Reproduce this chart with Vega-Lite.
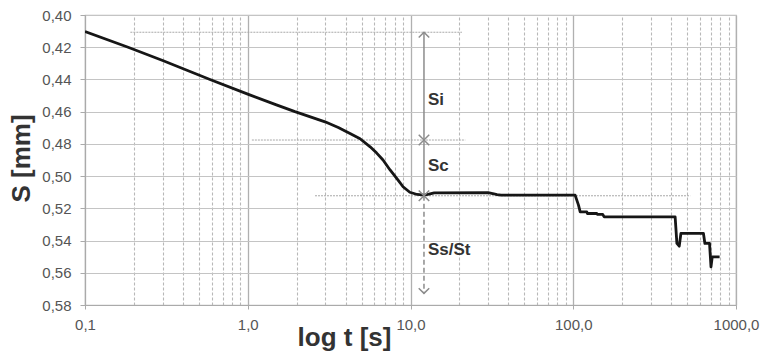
{
  "$schema": "https://vega.github.io/schema/vega-lite/v6.json",
  "width": 651,
  "height": 290,
  "autosize": "none",
  "padding": {"left": 85, "top": 15, "right": 25, "bottom": 48},
  "config": {
    "view": {"stroke": "#bdbdbd", "strokeWidth": 1.2},
    "font": "Liberation Sans",
    "axis": {
      "labelFont": "Liberation Sans",
      "labelFontSize": 15,
      "labelColor": "#555555",
      "titleFont": "Liberation Sans",
      "titleFontSize": 26,
      "titleFontWeight": "bold",
      "titleColor": "#333333",
      "domainColor": "#aaaaaa",
      "tickColor": "#aaaaaa",
      "gridColor": "#c4c4c4",
      "gridWidth": 1.2
    }
  },
  "datasets": {
    "curve": [
      {"t": 0.1, "S": 0.4103},
      {"t": 0.184, "S": 0.42},
      {"t": 0.3, "S": 0.4282},
      {"t": 0.586, "S": 0.44},
      {"t": 1.0, "S": 0.4491},
      {"t": 1.5, "S": 0.4558},
      {"t": 1.95, "S": 0.46},
      {"t": 2.985, "S": 0.4663},
      {"t": 3.6, "S": 0.4698},
      {"t": 4.25, "S": 0.4735},
      {"t": 4.9, "S": 0.4768},
      {"t": 5.65, "S": 0.4818},
      {"t": 6.2, "S": 0.4857},
      {"t": 6.78, "S": 0.49},
      {"t": 7.49, "S": 0.4962},
      {"t": 8.39, "S": 0.5025},
      {"t": 9.0, "S": 0.5066},
      {"t": 9.9, "S": 0.5100},
      {"t": 11.0, "S": 0.5114},
      {"t": 12.1, "S": 0.5118},
      {"t": 13.0, "S": 0.5112},
      {"t": 14.0, "S": 0.5104},
      {"t": 30.0, "S": 0.5103},
      {"t": 32.0, "S": 0.5108},
      {"t": 34.0, "S": 0.5115},
      {"t": 36.0, "S": 0.5118},
      {"t": 102.7, "S": 0.5118},
      {"t": 107.7, "S": 0.518},
      {"t": 110.3, "S": 0.5222},
      {"t": 121.2, "S": 0.5222},
      {"t": 122.2, "S": 0.5232},
      {"t": 139.6, "S": 0.5232},
      {"t": 141.0, "S": 0.5238},
      {"t": 151.8, "S": 0.5238},
      {"t": 154.9, "S": 0.5253},
      {"t": 422.7, "S": 0.5253},
      {"t": 433.3, "S": 0.5418},
      {"t": 448.0, "S": 0.5435},
      {"t": 458.6, "S": 0.5356},
      {"t": 631.0, "S": 0.5356},
      {"t": 644.0, "S": 0.5418},
      {"t": 687.7, "S": 0.5418},
      {"t": 702.0, "S": 0.5563},
      {"t": 714.5, "S": 0.5501},
      {"t": 793.0, "S": 0.5501}
    ],
    "refs": [
      {"t1": 0.19, "t2": 20.7, "S": 0.4107},
      {"t1": 1.06, "t2": 21.7, "S": 0.4776},
      {"t1": 2.59, "t2": 523, "S": 0.5122}
    ],
    "solidArrows": [
      {"t": 12.1, "S1": 0.4107, "S2": 0.4776},
      {"t": 12.1, "S1": 0.4776, "S2": 0.5122}
    ],
    "dashedArrows": [
      {"t": 12.1, "S1": 0.5122, "S2": 0.5728}
    ],
    "heads": [
      {"t": 12.1, "S": 0.4107, "dir": "up"},
      {"t": 12.1, "S": 0.4776, "dir": "down"},
      {"t": 12.1, "S": 0.4776, "dir": "up"},
      {"t": 12.1, "S": 0.5122, "dir": "down"},
      {"t": 12.1, "S": 0.5122, "dir": "up"},
      {"t": 12.1, "S": 0.5728, "dir": "down"}
    ],
    "labels": [
      {"t": 12.1, "S": 0.4528, "label": "Si"},
      {"t": 12.1, "S": 0.4938, "label": "Sc"},
      {"t": 12.1, "S": 0.5459, "label": "Ss/St"}
    ]
  },
  "encoding": {
    "x": {
      "field": "t",
      "type": "quantitative",
      "scale": {"type": "log", "domain": [0.1, 1000]},
      "axis": {
        "title": "log t [s]",
        "titleX": 259,
        "titleY": 40,
        "titleAlign": "center",
        "titleBaseline": "alphabetic",
        "values": [0.1, 0.2, 0.3, 0.4, 0.5, 0.6, 0.7, 0.8, 0.9, 1, 2, 3, 4, 5, 6, 7, 8, 9, 10, 20, 30, 40, 50, 60, 70, 80, 90, 100, 200, 300, 400, 500, 600, 700, 800, 900, 1000],
        "labelExpr": "abs(log(datum.value)/LN10 - round(log(datum.value)/LN10)) < 0.01 ? replace(format(datum.value, '.1f'), '.', ',') : ''",
        "labelOverlap": false,
        "labelFlush": false,
        "labelPadding": 8,
        "tickSize": 4,
        "tickOpacity": {"condition": {"test": "abs(log(datum.value)/LN10 - round(log(datum.value)/LN10)) < 0.01", "value": 1}, "value": 0},
        "gridDash": {"condition": {"test": "abs(log(datum.value)/LN10 - round(log(datum.value)/LN10)) < 0.01", "value": []}, "value": [3, 2]},
        "gridColor": {"condition": {"test": "abs(log(datum.value)/LN10 - round(log(datum.value)/LN10)) < 0.01", "value": "#b0b0b0"}, "value": "#b8b8b8"},
        "gridWidth": {"condition": {"test": "abs(log(datum.value)/LN10 - round(log(datum.value)/LN10)) < 0.01", "value": 1.3}, "value": 1.1}
      }
    },
    "y": {
      "field": "S",
      "type": "quantitative",
      "scale": {"domain": [0.4, 0.58], "reverse": true, "zero": false},
      "axis": {
        "title": "S [mm]",
        "titleX": -64,
        "titleY": 143,
        "titleAngle": -90,
        "titleAlign": "center",
        "titleBaseline": "middle",
        "values": [0.4, 0.42, 0.44, 0.46, 0.48, 0.5, 0.52, 0.54, 0.56, 0.58],
        "labelExpr": "replace(format(datum.value, '.2f'), '.', ',')",
        "labelPadding": 9,
        "tickSize": 5,
        "labelOverlap": false,
        "labelFlush": false
      }
    }
  },
  "layer": [
    {
      "data": {"name": "refs"},
      "mark": {"type": "rule", "color": "#a8a8a8", "strokeWidth": 1, "strokeDash": [2, 1]},
      "encoding": {
        "x": {"field": "t1", "type": "quantitative"},
        "x2": {"field": "t2"},
        "y": {"field": "S", "type": "quantitative"}
      }
    },
    {
      "data": {"name": "curve"},
      "mark": {"type": "line", "color": "#161616", "strokeWidth": 2.8, "strokeJoin": "round", "clip": true},
      "encoding": {}
    },
    {
      "data": {"name": "solidArrows"},
      "mark": {"type": "rule", "color": "#8c8c8c", "strokeWidth": 1.5},
      "encoding": {
        "x": {"field": "t", "type": "quantitative"},
        "y": {"field": "S1", "type": "quantitative"},
        "y2": {"field": "S2"}
      }
    },
    {
      "data": {"name": "dashedArrows"},
      "mark": {"type": "rule", "color": "#8c8c8c", "strokeWidth": 1.5, "strokeDash": [5, 3]},
      "encoding": {
        "x": {"field": "t", "type": "quantitative"},
        "y": {"field": "S1", "type": "quantitative"},
        "y2": {"field": "S2"}
      }
    },
    {
      "data": {"name": "heads"},
      "mark": {"type": "point", "filled": false, "stroke": "#8c8c8c", "strokeWidth": 1.5, "size": 110, "opacity": 1},
      "encoding": {
        "x": {"field": "t", "type": "quantitative"},
        "y": {"field": "S", "type": "quantitative"},
        "shape": {
          "field": "dir",
          "type": "nominal",
          "scale": {"domain": ["up", "down"], "range": ["M-1,1 L0,0 L1,1", "M-1,-1 L0,0 L1,-1"]},
          "legend": null
        }
      }
    },
    {
      "data": {"name": "labels"},
      "mark": {"type": "text", "align": "left", "baseline": "middle", "dx": 4, "font": "Liberation Sans", "fontSize": 17, "fontWeight": "bold", "color": "#333333"},
      "encoding": {
        "x": {"field": "t", "type": "quantitative"},
        "y": {"field": "S", "type": "quantitative"},
        "text": {"field": "label"}
      }
    }
  ]
}
